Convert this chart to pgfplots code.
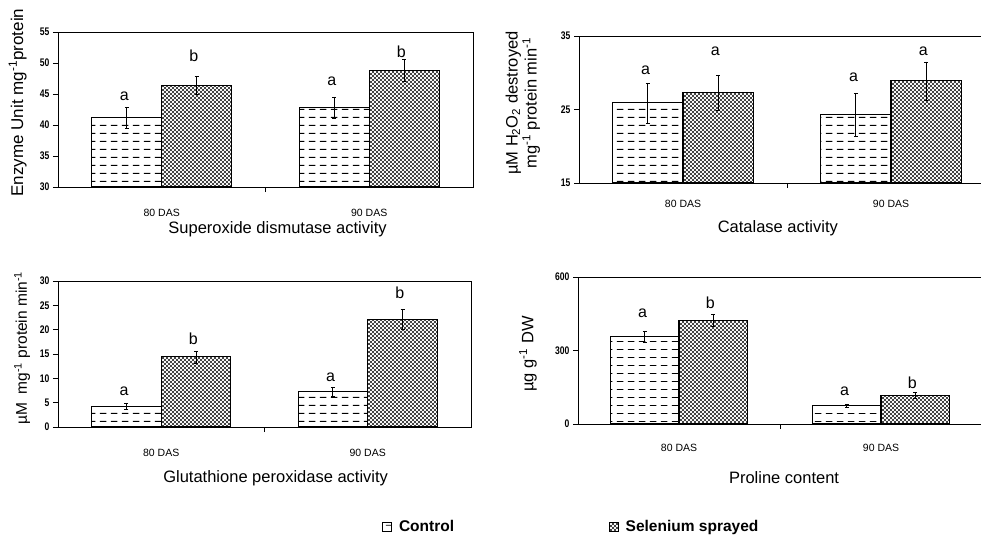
\documentclass[border=0pt]{standalone}
\usepackage{fontspec}
\setmainfont{Liberation Sans}
\usepackage{pgfplots}
\pgfplotsset{compat=1.18}
\usetikzlibrary{patterns}
\pgfdeclarepatternformonly{hdash}{\pgfpoint{0pt}{0pt}}{\pgfpoint{11pt}{8pt}}{\pgfpoint{11pt}{8pt}}{%
  \pgfsetlinewidth{0.9pt}%
  \pgfpathmoveto{\pgfpoint{1pt}{4pt}}%
  \pgfpathlineto{\pgfpoint{8pt}{4pt}}%
  \pgfusepath{stroke}}
\pgfdeclarepatternformonly{ddots}{\pgfpoint{-1pt}{-1pt}}{\pgfpoint{5pt}{5pt}}{\pgfpoint{4pt}{4pt}}{%
  \pgfpathcircle{\pgfpoint{1pt}{1pt}}{1.05pt}%
  \pgfpathcircle{\pgfpoint{3pt}{3pt}}{1.05pt}%
  \pgfusepath{fill}}
\newcommand\sq[1]{\scalebox{0.78}[1]{#1}}
\tikzset{lett/.style={font=\fontsize{16}{16}\selectfont}}
\pgfplotsset{
  panel/.style={
    scale only axis, ybar, clip=false,
    xmin=-0.5, xmax=1.5,
    axis line style={line width=0.9pt},
    every tick/.style={line width=0.9pt, black},
    major tick length=5pt, tick align=outside,
    xtick={0.5}, xticklabels={},
    extra x ticks={0,1}, extra x tick labels={80 DAS,90 DAS},
    extra x tick style={major tick length=0pt},
    xtick pos=bottom, ytick pos=left,
    x tick label style={font=\fontsize{10.5}{11}\selectfont, anchor=center},
    y tick label style={font=\bfseries\fontsize{11}{11}\selectfont, anchor=east},
    yticklabel={\sq{\pgfmathprintnumber{\tick}}},
    /pgf/number format/assume math mode=true,
    ylabel style={font=\fontsize{16.5}{19}\selectfont, anchor=center, align=center},
    xlabel style={font=\fontsize{16.5}{17}\selectfont, anchor=center},
    bar width=0.337,
  },
  ctrl/.style={draw=black, line width=1.1pt, pattern=hdash, bar shift=-0.1685,
    error bars/.cd, y dir=both, y explicit, error bar style={line width=1pt, black}},
  sel/.style={draw=black, line width=1.1pt, pattern=ddots, bar shift=0.1685,
    error bars/.cd, y dir=both, y explicit, error bar style={line width=1pt, black}},
}
\begin{document}
\begin{tikzpicture}
\path[use as bounding box] (0pt,0pt) rectangle (981pt,-537pt);
\clip (0pt,0pt) rectangle (981pt,-537pt);

% Panel 1
\begin{axis}[panel, at={(58pt,-187pt)}, anchor=south west, width=415pt, height=155pt,
  ymin=30, ymax=55, ytick={30,35,40,45,50,55},
  xticklabel style={yshift=-26pt},
  ylabel={Enzyme Unit mg\textsuperscript{-1}protein},
  ylabel style={at={(axis description cs:-0.097,0.545)}, font=\fontsize{17}{19}\selectfont},
  xlabel={Superoxide dismutase activity},
  xlabel style={at={(axis description cs:0.529,-0.271)}}]
\addplot[ctrl] coordinates {(0,41.2) +- (0,1.7) (1,42.85) +- (0,1.7)};
\addplot[sel] coordinates {(0,46.4) +- (0,1.5) (1,48.8) +- (0,1.8)};
\node[lett] at (axis cs:-0.18,44.7) {a};
\node[lett] at (axis cs:0.155,51.1) {b};
\node[lett] at (axis cs:0.82,47.0) {a};
\node[lett] at (axis cs:1.155,51.8) {b};
\end{axis}

% Panel 2
\begin{axis}[panel, at={(579pt,-183pt)}, anchor=south west, width=416pt, height=147pt,
  ymin=15, ymax=35, ytick={15,25,35},
  xticklabel style={yshift=-21pt},
  ylabel={µM H\textsubscript{2}O\textsubscript{2} destroyed\\mg\textsuperscript{-1} protein min\textsuperscript{-1}},
  ylabel style={at={(axis description cs:-0.135,0.544)}},
  xlabel={Catalase activity},
  xlabel style={at={(axis description cs:0.478,-0.306)}}]
\addplot[ctrl] coordinates {(0,25.9) +- (0,2.7) (1,24.3) +- (0,2.9)};
\addplot[sel] coordinates {(0,27.3) +- (0,2.4) (1,28.9) +- (0,2.6)};
\node[lett] at (axis cs:-0.18,30.4) {a};
\node[lett] at (axis cs:0.155,32.9) {a};
\node[lett] at (axis cs:0.82,29.4) {a};
\node[lett] at (axis cs:1.155,32.9) {a};
\end{axis}

% Panel 3
\begin{axis}[panel, at={(58pt,-427pt)}, anchor=south west, width=413pt, height=146pt,
  ymin=0, ymax=30, ytick={0,5,10,15,20,25,30},
  xticklabel style={yshift=-26pt},
  ylabel={µM\ \ mg\textsuperscript{-1} protein min\textsuperscript{-1}},
  ylabel style={at={(axis description cs:-0.087,0.54)}, font=\fontsize{15.5}{18}\selectfont},
  xlabel={Glutathione peroxidase activity},
  xlabel style={at={(axis description cs:0.527,-0.349)}},
  legend columns=2,
  legend style={draw=none, fill=none, at={(axis description cs:0.785,-0.685)}, anchor=west,
    font=\bfseries\fontsize{15.5}{16}\selectfont, inner sep=0pt,
    /tikz/every odd column/.append style={column sep=5pt},
    /tikz/every even column/.append style={column sep=153pt}},
  legend image code/.code={\draw[#1,line width=0.6pt] (0pt,-4.5pt) rectangle (9pt,4.5pt);}]
\addplot[ctrl] coordinates {(0,4.3) +- (0,0.55) (1,7.25) +- (0,0.9)};
\addlegendentry{Control}
\addplot[sel] coordinates {(0,14.4) +- (0,1.2) (1,22.1) +- (0,2.1)};
\addlegendentry{Selenium sprayed}
\node[lett] at (axis cs:-0.18,7.4) {a};
\node[lett] at (axis cs:0.155,18.2) {b};
\node[lett] at (axis cs:0.82,10.2) {a};
\node[lett] at (axis cs:1.155,27.5) {b};
\end{axis}

% Panel 4
\begin{axis}[panel, at={(578pt,-424pt)}, anchor=south west, width=404pt, height=147pt,
  ymin=0, ymax=600, ytick={0,300,600},
  xticklabel style={yshift=-24pt},
  ylabel={µg g\textsuperscript{-1} DW},
  ylabel style={at={(axis description cs:-0.124,0.476)}},
  xlabel={Proline content},
  xlabel style={at={(axis description cs:0.51,-0.367)}}]
\addplot[ctrl] coordinates {(0,356) +- (0,22) (1,75) +- (0,6)};
\addplot[sel] coordinates {(0,424) +- (0,25) (1,116) +- (0,12)};
\node[lett] at (axis cs:-0.18,452) {a};
\node[lett] at (axis cs:0.155,493) {b};
\node[lett] at (axis cs:0.82,132) {a};
\node[lett] at (axis cs:1.155,169) {b};
\end{axis}
\end{tikzpicture}
\end{document}
